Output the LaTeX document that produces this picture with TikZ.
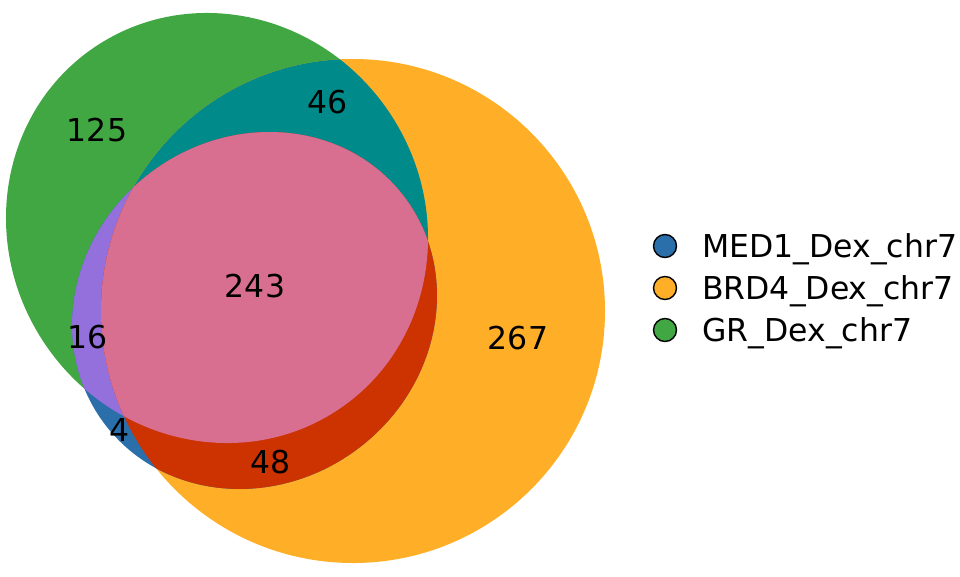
\documentclass[tikz,border=0pt]{standalone}
\usepackage{fontspec}
\setmainfont{DejaVu Sans}
\usetikzlibrary{positioning}

\definecolor{medblue}{HTML}{2B6FAA}
\definecolor{brdorange}{HTML}{FFAF27}
\definecolor{grgreen}{HTML}{41A743}
\definecolor{gbteal}{HTML}{008B8A}
\definecolor{mgpurple}{HTML}{9370DB}
\definecolor{mbred}{HTML}{CC3300}
\definecolor{allpink}{HTML}{D86F91}

% set outlines
\newcommand{\grshape}{(gr) ellipse[x radius=218.4pt, y radius=207.5pt, rotate=-55.8]}
\newcommand{\brdshape}{(brd) circle[radius=252pt]}
\newcommand{\medshape}{(med) ellipse[x radius=188pt, y radius=172.6pt, rotate=37.5]}

\begin{document}
\begin{tikzpicture}[
  x=1pt, y=-1pt,
  count/.style={font=\fontsize{31.5}{38}\selectfont, inner sep=0pt},
  legdot/.style={circle, draw=black, line width=1.4pt, minimum size=23pt, inner sep=0pt},
  legtext/.style={font=\fontsize{31.5}{38}\selectfont, inner sep=0pt, anchor=base west}
]
  \useasboundingbox (0,0) rectangle (960,576);

  % centres
  \coordinate (gr) at (217,228);
  \coordinate (brd) at (353,311);
  \coordinate (med) at (254.5,310.5);

  % single sets
  \fill[grgreen] \grshape;
  \fill[brdorange] \brdshape;
  \fill[medblue] \medshape;

  % pairwise overlaps
  \begin{scope}
    \clip \grshape;
    \fill[gbteal] \brdshape;
    \fill[mgpurple] \medshape;
  \end{scope}
  \begin{scope}
    \clip \brdshape;
    \fill[mbred] \medshape;
  \end{scope}

  % all three
  \begin{scope}
    \clip \grshape;
    \clip \brdshape;
    \fill[allpink] \medshape;
  \end{scope}

  % counts
  \node[count] (n125) at (97,130) {125};
  \node[count] (n46) at (328,102) {46};
  \node[count] (n243) at (255,286) {243};
  \node[count] (n267) at (518,338) {267};
  \node[count] (n16) at (88,337) {16};
  \node[count] (n4) at (120,430) {4};
  \node[count] (n48) at (271,462) {48};

  % legend
  \node[legdot, fill=medblue] (dmed) at (665,246) {};
  \node[legdot, fill=brdorange] (dbrd) at (665,288) {};
  \node[legdot, fill=grgreen] (dgr) at (665,330) {};
  \node[legtext] (tmed) at (702,257) {MED1\_Dex\_chr7};
  \node[legtext] (tbrd) at (702,299) {BRD4\_Dex\_chr7};
  \node[legtext] (tgr) at (702,341) {GR\_Dex\_chr7};
\end{tikzpicture}
\end{document}
